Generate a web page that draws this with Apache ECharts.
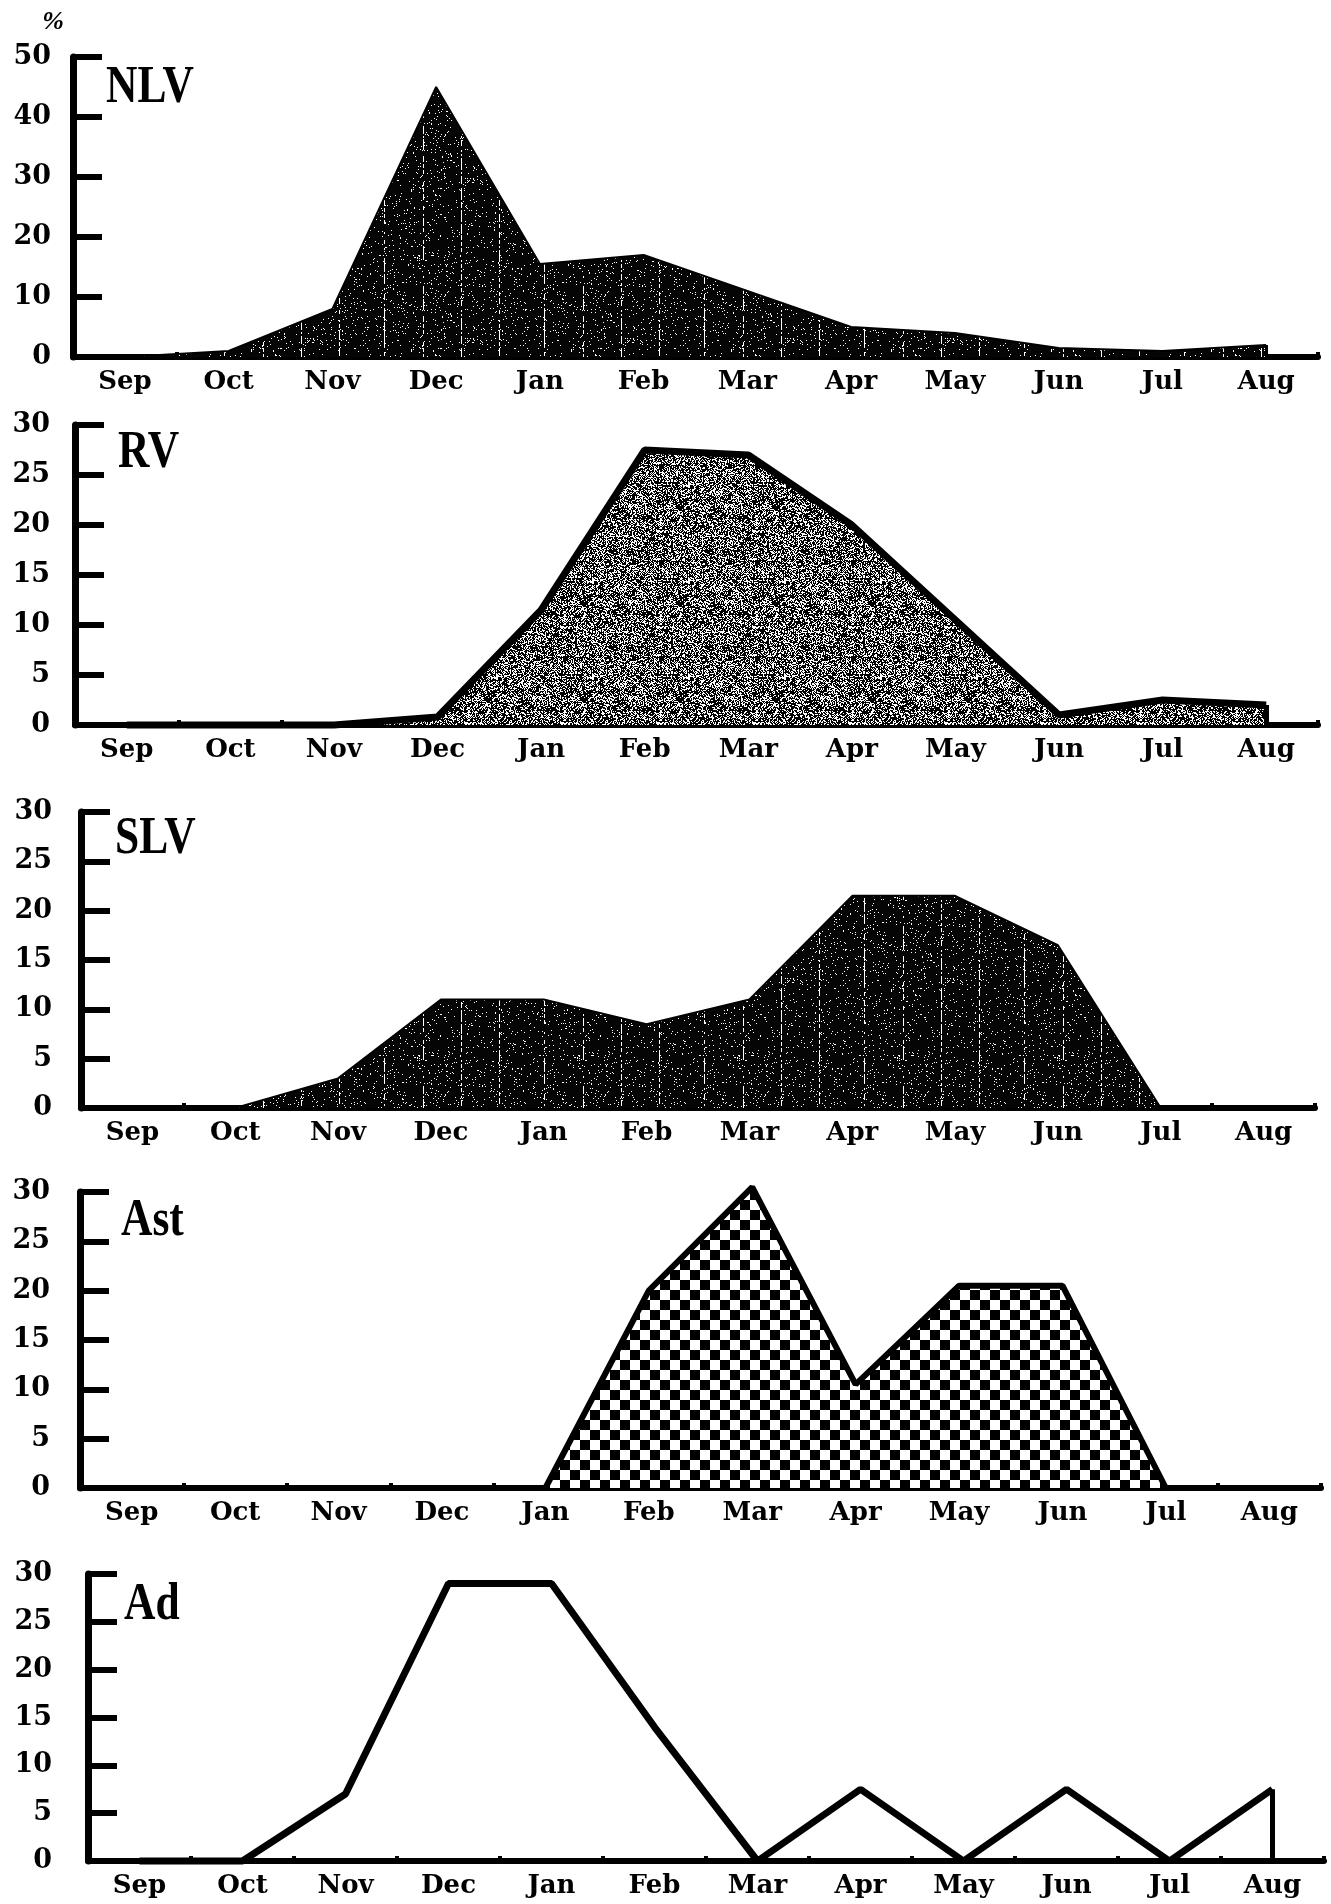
<!DOCTYPE html>
<html>
<head>
<meta charset="utf-8">
<title>Monthly virus detection</title>
<script src="https://cdn.jsdelivr.net/npm/echarts@6/dist/echarts.min.js"></script>
<style>
  html, body { margin: 0; padding: 0; background: #fff; }
  #chart { width: 1331px; height: 1904px; }
</style>
</head>
<body>
<div id="chart"></div>
<script>
// months on the x axis, Sep -> Aug
var months = ['Sep', 'Oct', 'Nov', 'Dec', 'Jan', 'Feb', 'Mar', 'Apr', 'May', 'Jun', 'Jul', 'Aug'];

// % positive
var nlv = [0, 1, 8, 45, 15.5, 17, 11, 5, 4, 1.5, 1, 2];
var rv  = [0, 0, 0, 0.8, 11.5, 27.5, 27, 20, 10.5, 1, 2.5, 2];
var slv = [0, 0, 3, 11, 11, 8.5, 11, 21.5, 21.5, 16.5, 0, 0];
var ast = [0, 0, 0, 0, 0, 20, 30.5, 10.5, 20.5, 20.5, 0, 0];
var ad  = [0, 0, 7, 29, 29, 14, 0, 7.5, 0, 7.5, 0, 7.5];

var panelNames = ['NLV', 'RV', 'SLV', 'Ast', 'Ad'];
var yMax  = [50, 30, 30, 30, 30];
var yStep = [10, 5, 5, 5, 5];

// little helper for the print-like textures (only used for fills)
function hash(n) {
  var x = Math.sin(n * 12.9898 + 78.233) * 43758.5453;
  return x - Math.floor(x);
}

function speckTexture() {
  var c = document.createElement('canvas');
  c.width = 160; c.height = 160;
  var g = c.getContext('2d');
  g.fillStyle = '#050505';
  g.fillRect(0, 0, 160, 160);
  g.fillStyle = '#ffffff';
  for (var i = 0; i < 1100; i++) {
    g.fillRect(Math.floor(hash(i * 2 + 1) * 160), Math.floor(hash(i * 2 + 2) * 160), 1, 1);
  }
  [19, 64, 103, 141].forEach(function (x) {
    for (var y = 0; y < 160; y += 2) {
      if (hash(x * 997 + y) > 0.35) g.fillRect(x, y, 1, 2);
    }
  });
  return c;
}

function stippleTexture() {
  var n = 96;
  var c = document.createElement('canvas');
  c.width = n; c.height = n;
  var g = c.getContext('2d');
  var img = g.createImageData(n, n);
  for (var i = 0; i < n * n; i++) {
    var v = hash(i + 5000) < 0.62 ? 0 : 255;
    img.data[i * 4] = v; img.data[i * 4 + 1] = v; img.data[i * 4 + 2] = v; img.data[i * 4 + 3] = 255;
  }
  g.putImageData(img, 0, 0);
  return c;
}

function checkerTexture() {
  var c = document.createElement('canvas');
  c.width = 20; c.height = 20;
  var g = c.getContext('2d');
  g.fillStyle = '#fff';
  g.fillRect(0, 0, 20, 20);
  g.fillStyle = '#000';
  g.fillRect(0, 0, 10, 10);
  g.fillRect(10, 10, 10, 10);
  return c;
}

var speck = speckTexture();
var stipple = stippleTexture();
var checker = checkerTexture();

// panel geometry
var layout = [
  { left: 73, top: 57,   width: 1245, height: 300, lm: 22, nx: 106, ny: 88 },
  { left: 75, top: 425,  width: 1243, height: 300, lm: 25, nx: 118, ny: 453 },
  { left: 81, top: 812,  width: 1234, height: 296, lm: 29, nx: 115, ny: 839 },
  { left: 80, top: 1192, width: 1241, height: 296, lm: 30, nx: 121, ny: 1221 },
  { left: 88, top: 1574, width: 1236, height: 287, lm: 36, nx: 124, ny: 1605 }
];

var seriesData = [nlv, rv, slv, ast, ad];
var fills = [
  { image: speck, repeat: 'repeat' },
  { image: stipple, repeat: 'repeat' },
  { image: speck, repeat: 'repeat' },
  { image: checker, repeat: 'repeat' },
  null
];
var lineWidths = [2, 7, 2, 6, 7];

var grids = [], xAxes = [], yAxes = [], series = [], texts = [];

layout.forEach(function (p, i) {
  grids.push({ left: p.left, top: p.top, width: p.width, height: p.height, outerBoundsMode: 'none' });
  xAxes.push({
    type: 'category',
    gridIndex: i,
    data: months,
    boundaryGap: true,
    axisLine: { lineStyle: { color: '#000', width: 6 } },
    axisTick: { show: true, inside: true, length: 5, lineStyle: { color: '#000', width: 4 } },
    axisLabel: {
      interval: 0,
      margin: 12,
      color: '#000',
      fontFamily: 'DejaVu Serif',
      fontWeight: 'bold',
      fontSize: 26
    },
    splitLine: { show: false }
  });
  yAxes.push({
    type: 'value',
    gridIndex: i,
    min: 0,
    max: yMax[i],
    interval: yStep[i],
    axisLine: { show: true, lineStyle: { color: '#000', width: 7 } },
    axisTick: { show: true, inside: true, length: 29, lineStyle: { color: '#000', width: 6 } },
    axisLabel: {
      margin: p.lm,
      color: '#000',
      fontFamily: 'DejaVu Serif',
      fontWeight: 'bold',
      fontSize: 27
    },
    splitLine: { show: false }
  });

  var data = seriesData[i];
  var s = {
    name: panelNames[i],
    type: 'line',
    xAxisIndex: i,
    yAxisIndex: i,
    data: data,
    symbol: 'none',
    clip: false,
    lineStyle: { color: '#000', width: lineWidths[i] },
    silent: true
  };
  if (fills[i]) s.areaStyle = { color: fills[i], opacity: 1 };
  // drop from the last point back to the axis
  if (data[data.length - 1] > 0) {
    s.markLine = {
      silent: true,
      symbol: ['none', 'none'],
      label: { show: false },
      lineStyle: { color: '#000', width: Math.max(3, lineWidths[i] - 2), type: 'solid' },
      data: [[
        { coord: [months[months.length - 1], data[data.length - 1]] },
        { coord: [months[months.length - 1], 0] }
      ]]
    };
  }
  series.push(s);

  texts.push({
    type: 'text',
    x: p.nx,
    y: p.ny,
    scaleX: 0.82,
    style: {
      text: panelNames[i],
      fill: '#000',
      font: 'bold 53px "Liberation Serif"',
      textAlign: 'left',
      textVerticalAlign: 'middle'
    }
  });
});

texts.push({
  type: 'text',
  x: 53,
  y: 22,
  style: {
    text: '%',
    fill: '#000',
    font: 'italic bold 26px "Liberation Serif"',
    textAlign: 'center',
    textVerticalAlign: 'middle'
  }
});

var chart = echarts.init(document.getElementById('chart'));
chart.setOption({
  animation: false,
  backgroundColor: '#fff',
  grid: grids,
  xAxis: xAxes,
  yAxis: yAxes,
  series: series,
  graphic: texts
});
</script>
</body>
</html>
